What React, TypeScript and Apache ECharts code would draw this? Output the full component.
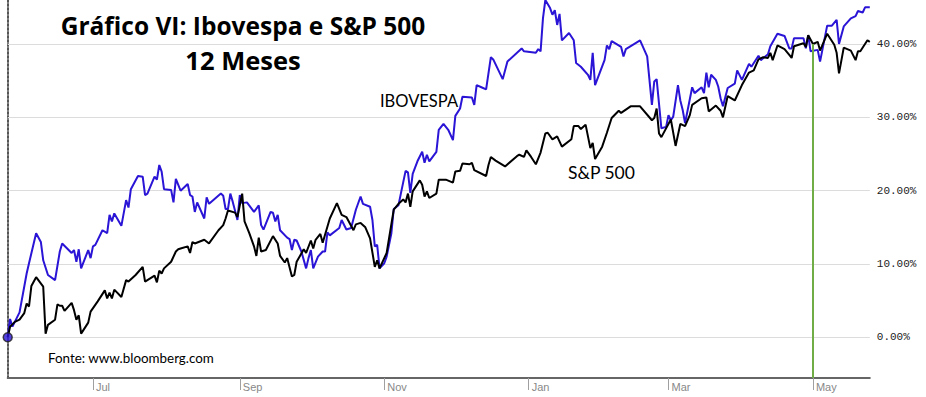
import React, { useEffect, useRef } from "react";
import * as echarts from "echarts";

const START = Date.UTC(2020, 4, 26);
const DAY = 86400000;

const ibovDays = [0,1,2,3,5,8,9,12,14,15,17,20,22,23,27,28,29,30,31,34,35,36,37,40,42,43,44,45,48,50,51,52,55,57,58,59,62,63,64,65,66,69,70,71,73,76,77,78,79,80,83,84,85,86,90,91,92,93,94,95,97,98,99,101,104,106,107,108,111,112,113,114,115,118,119,120,121,122,124,126,127,128,129,131,133,134,135,136,140,141,143,145,147,149,150,153,154,155,156,157,159,160,162,163,165,166,168,169,170,171,173,175,176,177,178,181,182,184,186,188,189,191,192,196,197,198,200,202,204,205,209,211,217,218,223,224,225,226,227,229,230,231,232,233,234,237,239,240,242,245,246,247,248,252,253,254,255,259,260,261,267,270,272,273,274,276,278,279,280,281,283,284,285,286,289,290,293,294,295,296,297,299,300,301,302,304,307,308,310,313,314,317,318,321,322,325,328,330,331,332,336,337,338,339,342,343,346,348,350,351,353,356,358,359,361,362,364];
const ibovVals = [0,2.5,1.45,2.1,3.4,8.7,10.1,14.2,13,10.5,8.5,7.8,11.7,12.8,11.5,11.9,10.3,12,9.4,11.9,10.8,12.4,12.6,14.6,14.2,16.7,15.8,16.9,15.2,18.7,17.7,20.2,22,21.9,19.4,19.6,21.9,21.5,23.5,22.6,20.2,20.1,18.4,21.6,20,20.9,19.4,19.2,17.1,18.4,16.2,19.1,18.2,18.5,19.6,19.3,17.5,17.5,19.6,18.5,16,19.4,18.3,18.4,17.1,18,15.3,14.7,17.1,17,15.8,16.7,14.6,13.6,13.4,11.9,13.3,13.2,11.7,9.4,10.8,11.9,9.4,11,11.7,11.7,14.3,13.9,14.9,16,14.7,14.9,17.4,19.2,18.2,17.8,16,12.4,12.6,9.4,10.1,11,14.2,17.5,18,19.6,22.7,22.5,19.7,22.3,24,25.3,23.8,24.9,24,25.3,28.3,29.1,28.3,26.9,30.2,31.2,32.8,32.7,31.7,34.4,34.1,33.8,38.2,37.9,35.2,37.6,39.4,39,38.8,39.3,39,43.5,46,44.9,44,44.6,42.6,44.1,40.5,41.5,40.5,37.4,36.9,35.8,35.1,38.8,34.4,37.8,39.8,39.3,40.4,39.6,38.3,39.3,40.5,38.3,31.7,34.9,35.2,28.5,28.7,30.3,29.6,30.1,34.4,32.3,31,29.2,34.1,33.3,34.1,33.3,36.1,34.1,35.8,35.1,34.2,32.6,31.5,34,34.6,36.4,35.1,37.3,36.9,38.4,37.8,38.6,39.7,41.4,41.1,39.4,39.4,40.8,40.8,39.4,41.2,39,39.2,37.6,42.5,42.5,43.3,40,42.4,43.5,43.8,44.5,44.3,45,45];

const spDays = [0,1,3,5,7,8,9,10,12,15,16,17,20,21,22,23,24,27,28,29,30,31,34,35,38,41,42,43,44,45,48,50,51,54,57,58,62,63,64,65,66,69,71,72,73,76,77,78,79,83,85,89,91,92,93,96,97,99,100,102,104,105,106,107,109,112,114,115,117,118,120,121,122,125,126,128,129,130,132,133,136,139,141,143,146,147,149,151,153,155,156,157,160,163,165,167,168,169,170,171,174,175,176,177,178,181,182,185,188,189,191,192,195,196,197,202,203,204,206,210,215,216,218,219,221,223,225,227,228,230,232,234,238,239,241,242,244,246,247,248,251,253,255,258,259,263,267,272,273,274,275,276,280,282,284,286,288,289,293,295,296,299,301,302,304,307,310,313,315,317,319,321,322,323,325,328,330,331,332,336,337,338,340,342,343,346,349,350,351,353,356,358,359,360,363,364];
const spVals = [0,1.45,2.1,2.4,3.3,4.6,4.2,7,8.2,6.9,0.5,1.7,2.4,4.5,4.3,4.3,3.6,4.7,3.7,2.4,3,0.5,2,3.5,4.9,6.4,5.3,6.1,5.3,6.5,5.5,7.8,7.6,8.5,9.6,7.6,8.4,7.5,9.1,8.7,9.4,10.3,11.7,12,12.1,12.4,11.5,13,12.8,13.3,12.8,14.6,15.3,16.2,17.3,17,16.4,19.6,15.8,14.2,12.4,11.1,13.6,11.7,11.9,13.8,12.8,11.1,10.2,10.8,8.3,8.5,10.3,12,11.5,13.2,12.1,13.3,14.1,12.9,16.2,18.3,16.7,16.4,14.6,15.4,15.6,15,13.5,9.6,10.5,9.4,11.5,17.4,18.2,18.8,18.4,19.6,17.8,19.9,21.4,20.8,19.2,19.9,19,19.6,21.5,21.5,21.1,22.6,22.7,23.7,23.6,23.8,22.8,22,23.5,24.6,24.1,23.3,24.7,24.9,24.6,25.5,24.6,23.6,25.2,27.8,27.9,27,27.4,26,27,28.8,28.8,28.4,29,25.8,26.5,24.3,26,27.9,29.9,30.9,30.6,31.5,31.5,29.6,29.9,31.2,27.8,27.3,29.7,26.1,29.1,28.8,30.3,31.7,32.6,32.7,30.8,31.6,30.9,30,32.9,32.3,34.4,36.1,36.4,37.9,38.2,38.1,38.8,37.8,39.8,39.3,38.5,38.1,39.7,40.1,39.6,41.2,40,40.3,39.1,41.4,39.9,38.8,36,39.5,39.1,37.8,39,39,40.5,40.3];

const monthStarts = [Date.UTC(2020, 6, 1), Date.UTC(2020, 8, 1), Date.UTC(2020, 10, 1), Date.UTC(2021, 0, 1), Date.UTC(2021, 2, 1), Date.UTC(2021, 4, 1)];
const monthNames = ["Jan", "Feb", "Mar", "Apr", "May", "Jun", "Jul", "Aug", "Sep", "Oct", "Nov", "Dec"];
const yTicks = [0, 10, 20, 30, 40];
const markerDay = 340;
const markerTop = 40.0;
const Y_MIN = -5.55;
const Y_MAX = 46.0;
const END_DAY = 364;

const BLUE = "#2a14d6";

export default function App() {
  const ref = useRef<HTMLDivElement>(null);
  useEffect(() => {
    if (!ref.current) return;
    const chart = echarts.init(ref.current, undefined, { renderer: "svg" });
    const ibov = ibovDays.map((d, i) => [d, ibovVals[i]]);
    const sp = spDays.map((d, i) => [d, spVals[i]]);
    const monthTicks = monthStarts.map((t) => Math.round((t - START) / DAY));
    const txt = (text: string, x: number, y: number, font: string, align = "left") => ({
      type: "text",
      x,
      y,
      silent: true,
      style: { text, font, fill: "#000", align, verticalAlign: "middle" },
    });
    chart.setOption({
      animation: false,
      backgroundColor: "#fff",
      grid: { left: 7.7, right: 56.2, top: 0, bottom: 19, containLabel: false },
      xAxis: {
        type: "value",
        min: 0,
        max: END_DAY,
        axisLine: { show: true, onZero: false, lineStyle: { color: "#666", width: 2 } },
        axisTick: { show: true, customValues: monthTicks, length: 12, lineStyle: { color: "#a0a0a0", width: 1 } },
        axisLabel: {
          show: true,
          customValues: monthTicks,
          formatter: (v: number) => monthNames[new Date(START + v * DAY).getUTCMonth()],
          align: "left",
          padding: [0, 0, 0, 3],
          margin: 3,
          color: "#888",
          fontFamily: "Liberation Sans",
          fontSize: 11,
        },
        splitLine: { show: false },
      },
      yAxis: [
        {
          type: "value",
          position: "right",
          min: Y_MIN,
          max: Y_MAX,
          axisLine: { show: false },
          axisTick: { show: true, customValues: yTicks, length: 5, lineStyle: { color: "#dcdcdc", width: 1 } },
          axisLabel: {
            show: true,
            customValues: yTicks,
            formatter: (v: number) => v.toFixed(2) + "%",
            margin: 7,
            align: "left",
            color: "#222",
            fontFamily: "Liberation Mono",
            fontSize: 11,
          },
          splitLine: { show: true, lineStyle: { color: "#dcdcdc", width: 1 } },
        },
        {
          type: "value",
          position: "left",
          min: Y_MIN,
          max: Y_MAX,
          axisLine: { show: true, onZero: false, lineStyle: { color: "#555", width: 2, type: "dotted" } },
          axisTick: { show: false },
          axisLabel: { show: false },
          splitLine: { show: false },
        },
      ],
      series: [
        {
          name: "IBOVESPA",
          type: "line",
          data: ibov,
          showSymbol: false,
          lineStyle: { color: BLUE, width: 2 },
          itemStyle: { color: BLUE },
          z: 2,
        },
        {
          name: "S&P 500",
          type: "line",
          data: sp,
          showSymbol: false,
          lineStyle: { color: "#000", width: 2 },
          itemStyle: { color: "#000" },
          z: 3,
          markLine: {
            silent: true,
            symbol: ["none", "none"],
            label: { show: false },
            lineStyle: { color: "#70ad47", width: 2, type: "solid" },
            data: [[{ coord: [markerDay, markerTop] }, { coord: [markerDay, Y_MIN] }]],
          },
        },
        {
          type: "scatter",
          data: [[0, 0]],
          symbolSize: 9,
          itemStyle: { color: BLUE, borderColor: "#222", borderWidth: 1.5 },
          z: 4,
          clip: false,
        },
      ],
      graphic: [
        txt("Gráfico VI: Ibovespa e S&P 500", 243, 25, "bold 24.5px 'Open Sans'", "center"),
        txt("12 Meses", 243, 60, "bold 25.5px 'Open Sans'", "center"),
        txt("IBOVESPA", 380, 101, "16.5px Lato"),
        txt("S&P 500", 568, 172, "17.5px Lato"),
        txt("Fonte: www.bloomberg.com", 48, 358, "13.4px Lato"),
      ],
    });
    return () => chart.dispose();
  }, []);
  return <div ref={ref} style={{ position: "fixed", left: 0, top: 0, width: 926, height: 397 }} />;
}
